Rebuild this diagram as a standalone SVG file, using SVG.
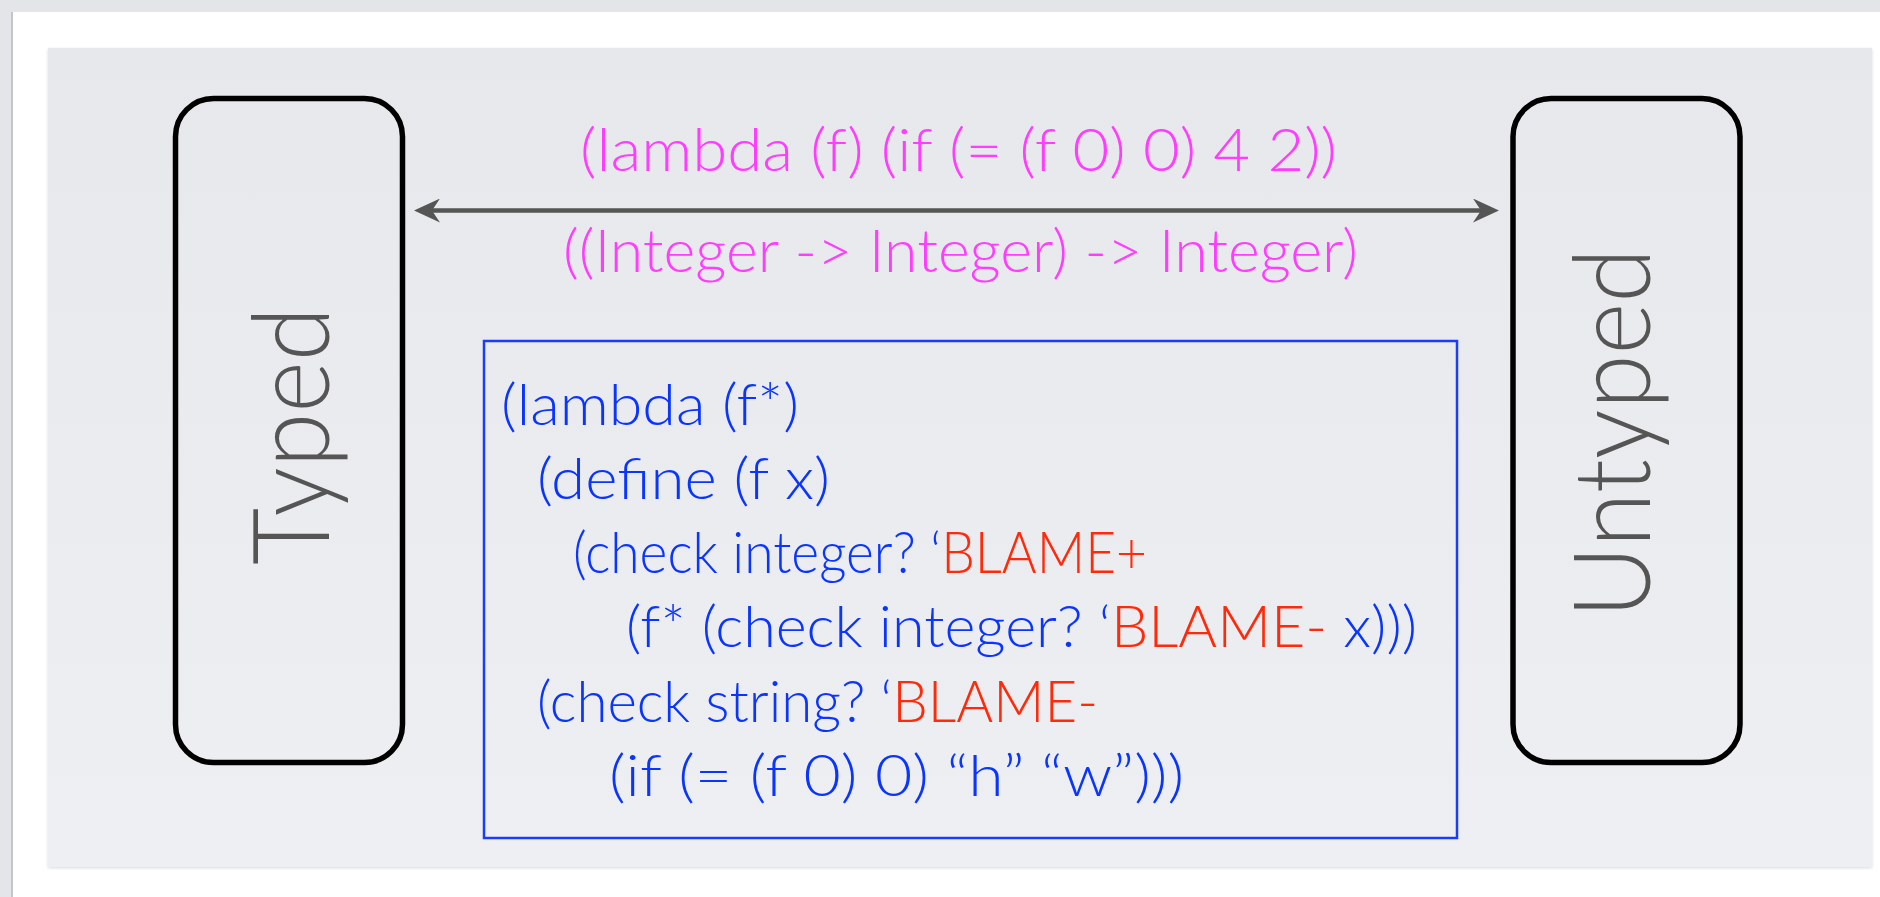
<svg xmlns="http://www.w3.org/2000/svg" width="1880" height="897" viewBox="0 0 1880 897">
  <style>
    .side { fill: none; stroke: #000; stroke-width: 5.5; }
    .side-label { font-family: Lato, "Open Sans", "Liberation Sans", sans-serif; font-weight: 300; font-size: 106px; fill: #555; }
    .sig { font-family: Lato, "Open Sans", "Liberation Sans", sans-serif; font-weight: 300; font-size: 59px; fill: #ff3cff; }
    .code { font-family: Lato, "Open Sans", "Liberation Sans", sans-serif; font-weight: 300; font-size: 58px; fill: #0a35ff; }
    .blame { fill: #ff2a0a; }
    .wrapper { fill: none; stroke: #1a3cff; stroke-width: 2.5; }
    .link { stroke: #555; stroke-width: 4.5; fill: none; }
  </style>
  <defs>
    <linearGradient id="panelFill" x1="0" y1="0" x2="0" y2="1">
      <stop offset="0" stop-color="#e7e8eb"/>
      <stop offset="1" stop-color="#eeeff2"/>
    </linearGradient>
    <marker id="head" viewBox="0 0 26 24" refX="18" refY="12" markerWidth="26" markerHeight="24" markerUnits="userSpaceOnUse" orient="auto-start-reverse">
      <path d="M0,0 L26,12 L0,24 L8,12 z" fill="#555"/>
    </marker>
    <filter id="soft" x="-5%" y="-5%" width="110%" height="110%">
      <feGaussianBlur stdDeviation="1.5"/>
    </filter>
  </defs>

  <!-- page backdrop -->
  <rect x="0" y="0" width="1880" height="897" fill="#e4e5e9"/>
  <rect x="13" y="12" width="1867" height="885" fill="#ffffff"/>
  <line x1="12" y1="12" x2="12" y2="897" stroke="#c4c5c9" stroke-width="2"/>

  <!-- slide panel -->
  <rect x="48" y="49" width="1824" height="819" fill="#d8d9dc" filter="url(#soft)"/>
  <rect x="48" y="48" width="1824" height="819" fill="url(#panelFill)"/>

  <!-- connectors -->
  <g id="connectors">
    <line class="link" x1="422" y1="210.5" x2="1491" y2="210.5" marker-start="url(#head)" marker-end="url(#head)"/>
    <text class="sig" x="580" y="171" textLength="757" lengthAdjust="spacingAndGlyphs">(lambda (f) (if (= (f 0) 0) 4 2))</text>
    <text class="sig" x="563" y="272" textLength="795" lengthAdjust="spacingAndGlyphs">((Integer -&gt; Integer) -&gt; Integer)</text>
  </g>

  <!-- typed side -->
  <g id="typed">
    <rect class="side" x="175.5" y="98.5" width="227" height="664" rx="38" ry="38"/>
    <text class="side-label" transform="translate(329,565) rotate(-90)" textLength="258" lengthAdjust="spacingAndGlyphs">Typed</text>
  </g>

  <!-- untyped side -->
  <g id="untyped">
    <rect class="side" x="1513" y="98.5" width="227" height="664" rx="38" ry="38"/>
    <text class="side-label" transform="translate(1650,618) rotate(-90)" textLength="370" lengthAdjust="spacingAndGlyphs">Untyped</text>
  </g>

  <!-- wrapped function -->
  <g id="wrapper">
    <rect class="wrapper" x="484" y="341" width="973" height="497"/>
    <text class="code" x="501" y="425" textLength="298" lengthAdjust="spacingAndGlyphs">(lambda (f*)</text>
    <text class="code" x="537" y="499" textLength="293" lengthAdjust="spacingAndGlyphs">(define (f x)</text>
    <text class="code" x="573" y="573" textLength="574" lengthAdjust="spacingAndGlyphs">(check integer? ‘<tspan class="blame">BLAME+</tspan></text>
    <text class="code" x="626" y="647" textLength="791" lengthAdjust="spacingAndGlyphs">(f* (check integer? ‘<tspan class="blame">BLAME-</tspan> x)))</text>
    <text class="code" x="537" y="722" textLength="561" lengthAdjust="spacingAndGlyphs">(check string? ‘<tspan class="blame">BLAME-</tspan></text>
    <text class="code" x="609" y="796" textLength="575" lengthAdjust="spacingAndGlyphs">(if (= (f 0) 0) “h” “w”)))</text>
  </g>
</svg>
